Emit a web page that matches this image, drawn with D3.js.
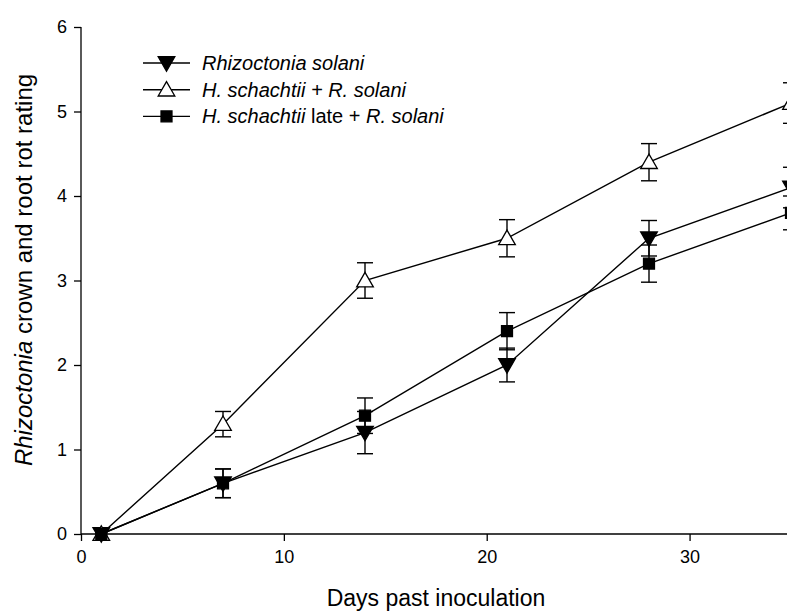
<!DOCTYPE html>
<html><head><meta charset="utf-8">
<script src="https://cdn.jsdelivr.net/npm/d3@7"></script>
<style>body{margin:0;background:#fff}svg{display:block}text{font-family:"Liberation Sans",Arial,sans-serif;fill:#000}</style>
</head><body><svg id="c" width="787" height="615"></svg>
<script>
const days = [1, 7, 14, 21, 28, 35];
const rsMean = [0, 0.6, 1.2, 2.0, 3.5, 4.1];
const rsErr  = [0, 0.17, 0.25, 0.2, 0.21, 0.24];
const hsMean = [0, 1.3, 3.0, 3.5, 4.4, 5.1];
const hsErr  = [0, 0.15, 0.21, 0.22, 0.22, 0.24];
const lateMean = [0, 0.6, 1.4, 2.4, 3.2, 3.8];
const lateErr  = [0, 0.17, 0.21, 0.22, 0.22, 0.2];
const xTicks = [0, 10, 20, 30];
const yTicks = [0, 1, 2, 3, 4, 5, 6];
const seriesNames = ["Rhizoctonia solani", "H. schachtii + R. solani", "H. schachtii late + R. solani"];

const svg = d3.select("#c");
const x = d3.scaleLinear().domain([0, 35]).range([81, 791]);
const y = d3.scaleLinear().domain([0, 6]).range([534, 27]);

const series = [
  {name: seriesNames[0], mean: rsMean, err: rsErr, sym: d3.symbolTriangle, rot: 180, fill: "#000"},
  {name: seriesNames[1], mean: hsMean, err: hsErr, sym: d3.symbolTriangle, rot: 0, fill: "#fff"},
  {name: seriesNames[2], mean: lateMean, err: lateErr, sym: d3.symbolSquare, rot: 0, fill: "#000"}
];

// axes
const xAxis = d3.axisBottom(x).tickValues(xTicks).tickSize(7).tickPadding(9).tickFormat(d3.format("d"));
const gx = svg.append("g").attr("transform", "translate(0,534)").call(xAxis);
const yAxis = d3.axisLeft(y).tickValues(yTicks).tickSize(7).tickPadding(7).tickFormat(d3.format("d"));
const gy = svg.append("g").attr("transform", "translate(81,0)").call(yAxis);
[gx, gy].forEach(g => {
  g.select(".domain").attr("stroke", "#000").attr("stroke-width", 1.3);
  g.selectAll(".tick line").attr("stroke", "#000").attr("stroke-width", 1.3);
  g.selectAll(".tick text").style("font-size", "18px").attr("fill", "#000");
});
gx.select(".domain").attr("d", "M81,0H791");
gy.select(".domain").attr("d", "M0,534V27");

// titles
svg.append("text").attr("x", 436).attr("y", 606).attr("text-anchor", "middle")
  .style("font-size", "23px").text("Days past inoculation");
const yl = svg.append("text").attr("transform", "translate(32,270) rotate(-90)")
  .attr("text-anchor", "middle").style("font-size", "24px");
yl.append("tspan").style("font-style", "italic").text("Rhizoctonia");
yl.append("tspan").text(" crown and root rot rating");

const plot = svg.append("g");
const sz = 120;
function symOffset(s) { return s.rot ? -1.5 : (s.sym === d3.symbolTriangle ? 1.5 : 0); }
series.forEach(s => {
  const pts = days.map((d, i) => ({d, m: s.mean[i], e: s.err[i]}));
  plot.append("path").datum(pts)
    .attr("fill", "none").attr("stroke", "#000").attr("stroke-width", 1.4)
    .attr("d", d3.line().x(p => x(p.d)).y(p => y(p.m)));
  const eb = plot.append("g");
  pts.filter(p => p.e > 0).forEach(p => {
    const cx = x(p.d);
    eb.append("line").attr("x1", cx).attr("x2", cx).attr("y1", y(p.m + p.e)).attr("y2", y(p.m - p.e))
      .attr("stroke", "#000").attr("stroke-width", 1.4);
    [p.m + p.e, p.m - p.e].forEach(v => {
      eb.append("line").attr("x1", cx - 8).attr("x2", cx + 8).attr("y1", y(v)).attr("y2", y(v))
        .attr("stroke", "#000").attr("stroke-width", 1.4);
    });
  });
});
series.forEach(s => {
  plot.selectAll(null).data(days.map((d, i) => ({d, m: s.mean[i]}))).enter().append("path")
    .attr("transform", p => `translate(${x(p.d)},${y(p.m) + symOffset(s)}) rotate(${s.rot})`)
    .attr("d", d3.symbol().type(s.sym).size(sz))
    .attr("fill", s.fill).attr("stroke", "#000").attr("stroke-width", 1.3);
});

// legend
const lg = svg.append("g");
series.forEach((s, i) => {
  const ly = 63 + i * 26.7;
  lg.append("line").attr("x1", 143).attr("x2", 190).attr("y1", ly).attr("y2", ly)
    .attr("stroke", "#000").attr("stroke-width", 1.4);
  lg.append("path").attr("transform", `translate(166.5,${ly + symOffset(s)}) rotate(${s.rot})`)
    .attr("d", d3.symbol().type(s.sym).size(sz))
    .attr("fill", s.fill).attr("stroke", "#000").attr("stroke-width", 1.3);
  const t = lg.append("text").attr("x", 202).attr("y", ly + 7).style("font-size", "20px");
  if (i === 0) t.append("tspan").style("font-style", "italic").text("Rhizoctonia solani");
  else if (i === 1) t.append("tspan").style("font-style", "italic").text("H. schachtii + R. solani");
  else {
    t.append("tspan").style("font-style", "italic").text("H. schachtii");
    t.append("tspan").text(" late + ");
    t.append("tspan").style("font-style", "italic").text("R. solani");
  }
});
</script></body></html>
